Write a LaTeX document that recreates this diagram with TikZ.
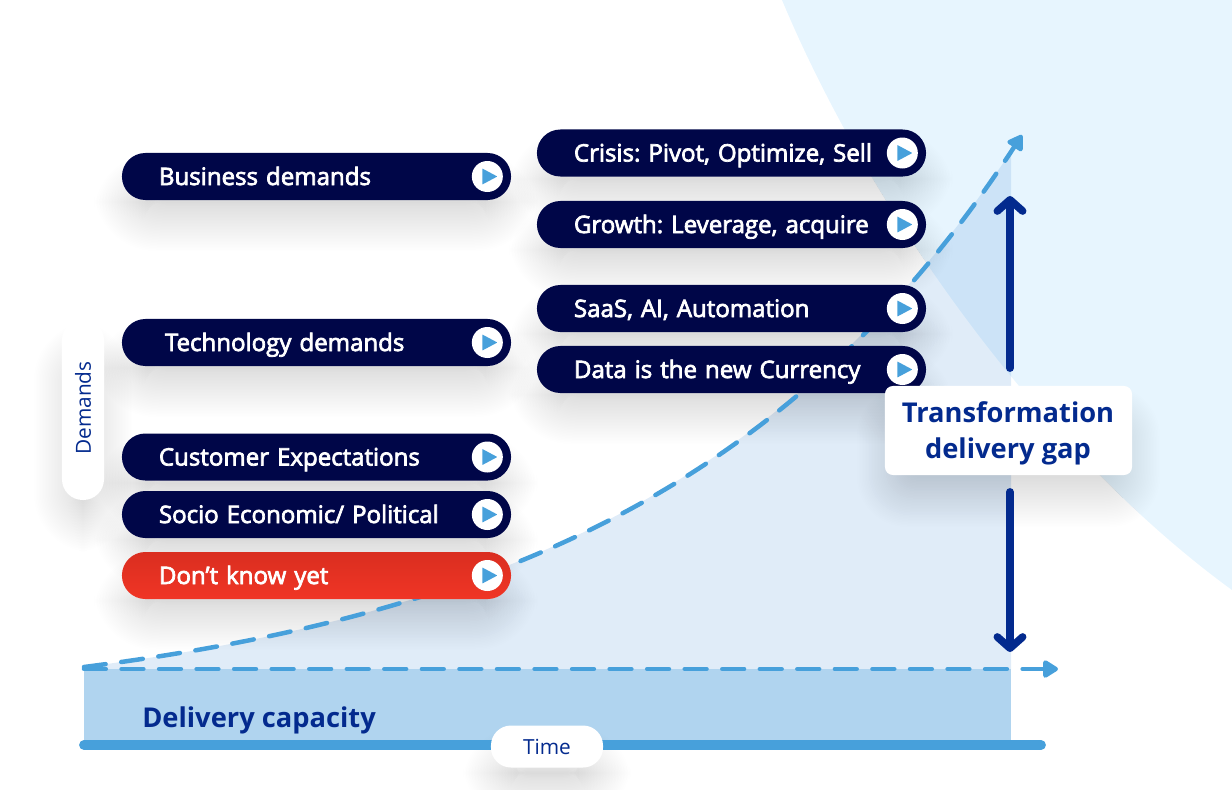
\documentclass[tikz,border=0pt]{standalone}
\usepackage{fontspec}
\setmainfont{Open Sans}
\newfontfamily\medfont[FakeBold=3]{Open Sans}
\usetikzlibrary{arrows.meta,calc}

\definecolor{pillnavy}{HTML}{000648}
\definecolor{gapblue}{HTML}{032A8E}
\definecolor{lineblue}{HTML}{47A0DB}
\definecolor{capblue}{HTML}{B0D4EF}
\definecolor{skyblue}{HTML}{E7F5FE}
\definecolor{areablue}{HTML}{4A90D8}
\definecolor{red1}{HTML}{DA2E20}
\definecolor{red2}{HTML}{F03525}

\tikzset{
  pill/.style={fill=pillnavy, text=white, rounded corners=0.585cm, minimum width=9.725cm,
    minimum height=1.175cm, inner xsep=0.925cm, text width=7.875cm, align=left,
    text height=0.425cm, text depth=0pt,
    font=\fontsize{17.1}{19}\selectfont\medfont\frenchspacing},
  redpill/.style={pill, fill=none, top color=red1, bottom color=red2},
  playdot/.style={circle, fill=white, minimum size=0.775cm, inner sep=0pt},
  dashline/.style={draw=lineblue, line width=3.2pt, line cap=round,
    dash pattern=on 15.5pt off 11.2pt, -{Triangle[length=12pt,width=14pt,round]}},
  gaparrow/.style={draw=gapblue, line width=5.6pt, line cap=round,
    -{Straight Barb[length=8pt,width=18pt,round,line width=5.4pt]}},
  whitetag/.style={fill=white, text=gapblue, align=center},
}

% soft shadow from a stack of faint boxes: x1,y1,x2,y2,radius
\newcommand{\softshadow}[5]{
  \foreach \s in {0,...,35}
    \fill[black, opacity=0.0056, rounded corners=#5+(35-\s)*0.03cm]
      (#1-28+\s*1.5,#2+\s*1.5) rectangle (#3+28-\s*1.5,#4+52-\s*1.5);
}
% one pill with its play button
\newcommand{\demandpill}[5][pill]{
  \node[#1] (#2) at (#3,#4) {#5};
  \node[playdot] (#2dot) at ($(#2.east)+(-24,0)$) {};
  \fill[lineblue, rounded corners=0.3pt, line join=round]
    ($(#2dot)+(-5,-8)$) -- ($(#2dot)+(10,0)$) -- ($(#2dot)+(-5,8)$) -- cycle;
}

\begin{document}
\begin{tikzpicture}[x=0.025cm, y=-0.025cm, >=Stealth]
  \useasboundingbox (0,0) rectangle (1232,790);

  % background sweep
  \fill[skyblue] (782,0) .. controls (870,210) and (1040,450) .. (1232,590)
    -- (1232,0) -- cycle;

  % free ends
  \coordinate (origin) at (84,667);
  \coordinate (demandtip) at (1022,135);
  \coordinate (capstart) at (84,669);
  \coordinate (captip) at (1058,669);
  \coordinate (baseleft) at (84,745);
  \coordinate (baseright) at (1041,745);

  % area under the demand curve
  \begin{scope}
    \clip (84,0) rectangle (1011,790);
    \fill[areablue, opacity=0.17] (origin) .. controls (490,615) and (790,490) .. (demandtip)
      -- (1022,669) -- (84,669) -- cycle;
  \end{scope}
  \fill[capblue] (84,669) rectangle (1011,742);

  % shadows go under every box
  \foreach \px/\py in {316/176,316/342,316/457,316/514,316/575,731/153,731/224,731/308,731/369}
    \softshadow{\px-194}{\py-23}{\px+194}{\py+23}{0.5cm};
  \softshadow{62}{322}{104}{500}{0.4cm}
  \softshadow{491}{726}{603}{768}{0.4cm}
  \softshadow{885}{386}{1132}{475}{0.2cm}

  % curves and axis
  \draw[dashline] (origin) .. controls (490,615) and (790,490) .. (demandtip);
  \draw[dashline] (capstart) -- (captip);
  \draw[lineblue, line width=7pt, line cap=round] (baseleft) -- (baseright);

  % left pills
  \demandpill{business}{316.5}{176.5}{Business demands}
  \demandpill{technology}{316.5}{342.5}{\hspace*{0.15cm}Technology demands}
  \demandpill{customer}{316.5}{457}{Customer Expectations}
  \demandpill{socio}{316.5}{514.5}{Socio Economic/ Political}
  \demandpill[redpill]{unknown}{316.5}{575.5}{Don’t know yet}

  % right pills
  \demandpill{crisis}{731.5}{153}{Crisis: Pivot, Optimize, Sell}
  \demandpill{growth}{731.5}{224.5}{Growth: Leverage, acquire}
  \demandpill{saas}{731.5}{308.5}{SaaS, AI, Automation}
  \demandpill{data}{731.5}{369.5}{Data is the new Currency}

  % gap label and arrows
  \node[whitetag, rounded corners=0.2cm, minimum width=6.175cm, minimum height=2.225cm] (gap)
    at (1008.5,430.5) {};
  \node[text=gapblue, align=center, font=\fontsize{19.4}{25.5}\selectfont\bfseries] (gaptext)
    at (1008,433) {Transformation\\delivery gap};
  \coordinate (gaptop) at (1010,368);
  \coordinate (gaphead) at (1010,196);
  \coordinate (gapbottom) at (1010,492);
  \coordinate (gapfoot) at (1010,652);
  \draw[gaparrow] (gaptop) -- (gaphead);
  \draw[gaparrow] (gapbottom) -- (gapfoot);

  % axis tags
  \node[whitetag, rounded corners=0.52cm, minimum width=1.05cm, minimum height=4.5cm] (demands)
    at (83,410) {};
  \node[rotate=90, text=gapblue, font=\fontsize{14.8}{16}\selectfont] (demandstext) at (83,408) {Demands};
  \node[whitetag, rounded corners=0.5cm, minimum width=2.8cm, minimum height=1.05cm,
    font=\fontsize{14.8}{16}\selectfont] (time) at (547,746.5) {Time};
  \node[anchor=west, text=gapblue, inner sep=0pt, font=\fontsize{19.4}{24}\selectfont\bfseries]
    (capacity) at (142,720) {Delivery capacity};
\end{tikzpicture}
\end{document}
